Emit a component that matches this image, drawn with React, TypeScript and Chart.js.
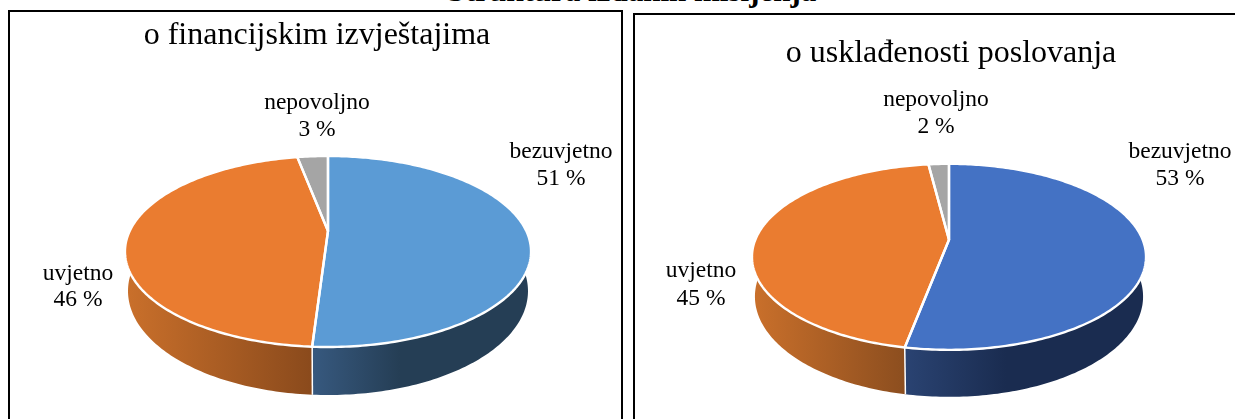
import React, { useEffect, useRef } from "react";
import { Chart, registerables } from "chart.js";

Chart.register(...registerables);

const SERIF = "'Liberation Serif', 'Times New Roman', serif";

const heading = "Struktura izdanih mišljenja";
const categories = ["bezuvjetno", "uvjetno", "nepovoljno"];
const titleLeft = "o financijskim izvještajima";
const titleRight = "o usklađenosti poslovanja";
const valuesLeft = [51, 46, 3];
const valuesRight = [53, 45, 2];
const topColorsLeft = ["#5b9bd5", "#ea7c30", "#a5a5a5"];
const topColorsRight = ["#4472c4", "#ea7c30", "#a5a5a5"];
const wallColorsLeft = [["#37597f", "#253e55", 0.4], ["#ca702b", "#8a4a1c", 1], ["#777777", "#555555", 1]];
const wallColorsRight = [["#2a4372", "#1a2c50", 0.42], ["#ca702b", "#8c4e1f", 1], ["#777777", "#555555", 1]];

type PanelCfg = {
  left: number; width: number; title: string; titleTop: number; bottomPad: number;
  values: number[]; top: string[]; walls: any[]; radius: number; dx: number;
  tilt: number; persp: number; depth: number; lowerScale: number;
  labelAnchors: number[][];
};

const pie3d = {
  id: "pie3d",
  beforeDatasetDraw(chart: any, args: any, opts: any) {
    const ctx = chart.ctx;
    const meta = args.meta;
    const { dx, tilt, persp, depth, lowerScale, walls } = opts;
    const project = (el: any, th: number, lower: boolean) => {
      const R = el.outerRadius;
      const u = Math.sin(th), v = -Math.cos(th);
      const w = 1 - persp * v;
      const cx = el.x + dx, cy = el.y;
      if (!lower) return [cx + (R * u) / w, cy + (R * tilt * v) / w];
      return [cx + ((R * u) / w) * lowerScale, cy + (R * tilt * v) / w + (depth * (1 - persp)) / w];
    };
    const samples = (el: any) => {
      const a = el.startAngle + Math.PI / 2, b = el.endAngle + Math.PI / 2;
      const n = Math.max(8, Math.ceil((b - a) * 60));
      const list: number[] = [];
      for (let i = 0; i <= n; i++) list.push(a + ((b - a) * i) / n);
      return list;
    };
    ctx.save();
    ctx.lineJoin = "round";
    // side walls
    meta.data.forEach((el: any, i: number) => {
      const ths = samples(el);
      const front = ths.filter((t) => -Math.cos(t) > -0.25);
      if (!front.length) return;
      const xs = front.map((t) => project(el, t, false)[0]);
      const g = ctx.createLinearGradient(Math.min(...xs), 0, Math.max(...xs), 0);
      const [c0, c1, f] = walls[i];
      g.addColorStop(0, c0);
      g.addColorStop(f, c1);
      g.addColorStop(1, c1);
      ctx.beginPath();
      ths.forEach((t, k) => {
        const p = project(el, t, false);
        if (k) ctx.lineTo(p[0], p[1]); else ctx.moveTo(p[0], p[1]);
      });
      [...ths].reverse().forEach((t) => {
        const p = project(el, t, true);
        ctx.lineTo(p[0], p[1]);
      });
      ctx.closePath();
      ctx.fillStyle = g;
      ctx.fill();
    });
    // seams on the side wall
    meta.data.forEach((el: any) => {
      const t = el.endAngle + Math.PI / 2;
      if (-Math.cos(t) < 0.3) return;
      const a = project(el, t, false), b = project(el, t, true);
      ctx.beginPath();
      ctx.moveTo(a[0], a[1]);
      ctx.lineTo(b[0], b[1]);
      ctx.strokeStyle = "#ffffff";
      ctx.lineWidth = 1.5;
      ctx.stroke();
    });
    // top faces
    meta.data.forEach((el: any) => {
      ctx.beginPath();
      ctx.moveTo(el.x + dx, el.y);
      samples(el).forEach((t) => {
        const p = project(el, t, false);
        ctx.lineTo(p[0], p[1]);
      });
      ctx.closePath();
      ctx.fillStyle = el.options.backgroundColor;
      ctx.fill();
    });
    meta.data.forEach((el: any) => {
      ctx.beginPath();
      ctx.moveTo(el.x + dx, el.y);
      samples(el).forEach((t) => {
        const p = project(el, t, false);
        ctx.lineTo(p[0], p[1]);
      });
      ctx.closePath();
      ctx.strokeStyle = el.options.borderColor;
      ctx.lineWidth = el.options.borderWidth;
      ctx.stroke();
    });
    ctx.restore();
    return false;
  },
  afterDatasetsDraw(chart: any, _args: any, opts: any) {
    const ctx = chart.ctx;
    const data = chart.data.datasets[0].data;
    ctx.save();
    ctx.fillStyle = "#000000";
    ctx.font = `23.5px ${SERIF}`;
    ctx.textAlign = "center";
    ctx.textBaseline = "alphabetic";
    chart.data.labels.forEach((label: string, i: number) => {
      const [x, y, gap] = opts.labelAnchors[i];
      ctx.fillText(label, x, y);
      ctx.fillText(`${data[i]} %`, x, y + gap);
    });
    ctx.restore();
  },
};

function Panel({ cfg }: { cfg: PanelCfg }) {
  const ref = useRef<HTMLCanvasElement | null>(null);
  useEffect(() => {
    const chart = new Chart(ref.current as HTMLCanvasElement, {
      type: "pie",
      data: {
        labels: categories,
        datasets: [{
          data: cfg.values,
          backgroundColor: cfg.top,
          borderColor: "#ffffff",
          borderWidth: 2.4,
          radius: cfg.radius,
        }],
      },
      options: {
        responsive: false,
        animation: false,
        events: [],
        layout: { padding: { bottom: cfg.bottomPad } },
        plugins: {
          legend: { display: false },
          tooltip: { enabled: false },
          title: {
            display: true,
            text: cfg.title,
            color: "#000000",
            font: { family: SERIF, size: 32, weight: "normal" },
            padding: { top: cfg.titleTop, bottom: 10 },
          },
          pie3d: {
            dx: cfg.dx, tilt: cfg.tilt, persp: cfg.persp, depth: cfg.depth,
            lowerScale: cfg.lowerScale, walls: cfg.walls, labelAnchors: cfg.labelAnchors,
          },
        },
      } as any,
      plugins: [pie3d],
    });
    return () => chart.destroy();
  }, [cfg]);
  return (
    <canvas
      ref={ref}
      width={cfg.width}
      height={419}
      style={{ position: "absolute", left: cfg.left, top: 0 }}
    />
  );
}

const leftCfg: PanelCfg = {
  left: 0, width: 634, title: titleLeft, titleTop: 16, bottomPad: 21.4,
  values: valuesLeft, top: topColorsLeft, walls: wallColorsLeft,
  radius: 198.3, dx: 11, tilt: 91.1 / 198.3, persp: 0.2147, depth: 48, lowerScale: 0.985,
  labelAnchors: [[561, 158, 27], [78, 280, 26], [317, 109, 27]],
};
const rightCfg: PanelCfg = {
  left: 634, width: 634, title: titleRight, titleTop: 34, bottomPad: 21.8,
  values: valuesRight, top: topColorsRight, walls: wallColorsRight,
  radius: 193.7, dx: -2, tilt: 89.9 / 193.7, persp: 0.183, depth: 47, lowerScale: 0.985,
  labelAnchors: [[546, 158, 27], [67, 277, 28], [302, 106, 27]],
};

export default function App() {
  return (
    <div style={{ position: "absolute", left: 0, top: 0, width: 1235, height: 419, overflow: "hidden", background: "#fff" }}>
      <div style={{
        position: "absolute", left: 332, width: 600, top: -25.5, textAlign: "center",
        font: `bold 31px/31px ${SERIF}`, color: "#000", whiteSpace: "nowrap",
      }}>{heading}</div>
      <div style={{ position: "absolute", left: 8, top: 10, width: 615, height: 500, border: "2px solid #000", boxSizing: "border-box" }} />
      <div style={{ position: "absolute", left: 633, top: 13, width: 700, height: 500, border: "2px solid #000", boxSizing: "border-box" }} />
      <Panel cfg={leftCfg} />
      <Panel cfg={rightCfg} />
    </div>
  );
}
